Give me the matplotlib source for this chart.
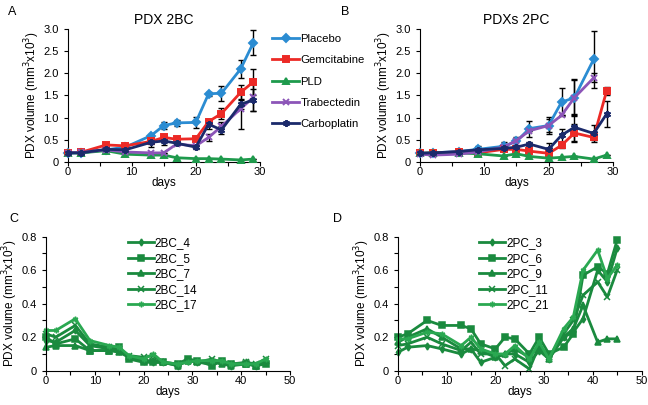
import matplotlib
matplotlib.use("Agg")
import matplotlib.pyplot as plt
from matplotlib.ticker import MultipleLocator, FuncFormatter

plt.rcParams['font.family'] = ['Liberation Sans', 'DejaVu Sans']

# ---- data, panels A/B ----
days_ab = [0, 2, 6, 9, 13, 15, 17, 20, 22, 24, 27, 29]
drugs = ['Placebo', 'Gemcitabine', 'PLD', 'Trabectedin', 'Carboplatin']

bc_placebo = [0.20, 0.20, 0.27, 0.33, 0.59, 0.82, 0.88, 0.89, 1.54, 1.55, 2.10, 2.70]
bc_placebo_err = [0, 0, 0, 0, 0.04, 0.08, 0.06, 0.13, 0.05, 0.17, 0.20, 0.28]
bc_gem = [0.20, 0.21, 0.38, 0.36, 0.46, 0.55, 0.51, 0.52, 0.91, 1.09, 1.57, 1.81]
bc_gem_err = [0, 0, 0, 0, 0.07, 0.06, 0.05, 0.05, 0.06, 0.12, 0.16, 0.30]
bc_pld = [0.20, 0.20, 0.25, 0.17, 0.15, 0.15, 0.09, 0.07, 0.07, 0.06, 0.04, 0.06]
bc_pld_err = [0] * 12
bc_trab = [0.20, 0.21, 0.27, 0.22, 0.20, 0.20, 0.40, 0.36, 0.55, 0.80, 1.20, 1.46]
bc_trab_err = [0, 0, 0, 0, 0, 0, 0, 0, 0.08, 0.10, 0.45, 0.30]
bc_carbo = [0.20, 0.20, 0.28, 0.27, 0.44, 0.47, 0.42, 0.33, 0.85, 0.72, 1.30, 1.40]
bc_carbo_err = [0, 0, 0, 0, 0.10, 0.10, 0.05, 0.05, 0.10, 0.10, 0.10, 0.25]

days_pc_plac = [0, 2, 6, 9, 13, 15, 17, 20, 22, 24, 27]
pc_placebo = [0.19, 0.20, 0.23, 0.28, 0.35, 0.46, 0.75, 0.82, 1.35, 1.45, 2.32]
pc_placebo_err = [0, 0, 0.04, 0.08, 0.10, 0.10, 0.18, 0.20, 0.32, 0.42, 0.65]
pc_gem = [0.19, 0.20, 0.22, 0.20, 0.28, 0.28, 0.24, 0.19, 0.37, 0.65, 0.55, 1.60]
pc_gem_err = [0, 0, 0, 0, 0, 0, 0, 0, 0.05, 0.20, 0.06, 0.10]
pc_pld = [0.19, 0.20, 0.20, 0.18, 0.13, 0.18, 0.12, 0.08, 0.10, 0.12, 0.06, 0.15]
pc_pld_err = [0] * 12
days_pc_trab = [0, 2, 6, 9, 13, 15, 17, 20, 22, 24, 27]
pc_trab = [0.17, 0.15, 0.17, 0.22, 0.33, 0.48, 0.70, 0.82, 1.05, 1.45, 1.90]
pc_trab_err = [0, 0, 0, 0, 0, 0, 0, 0.15, 0, 0.40, 0.10]
pc_carbo = [0.19, 0.20, 0.23, 0.27, 0.30, 0.33, 0.40, 0.28, 0.60, 0.78, 0.64, 1.08]
pc_carbo_err = [0, 0, 0, 0, 0, 0.05, 0.05, 0.15, 0.15, 0.30, 0.20, 0.30]

# ---- data, panels C/D ----
days_cd = [0, 2, 6, 9, 13, 15, 17, 20, 22, 24, 27, 29, 31, 34, 36, 38, 41, 43, 45]
bc_names = ['2BC_4', '2BC_5', '2BC_7', '2BC_14', '2BC_17']
bc_4 = [0.18, 0.17, 0.24, 0.15, 0.13, 0.12, 0.08, 0.06, 0.05, 0.05, 0.03, 0.06, 0.05, 0.04, 0.05, 0.03, 0.05, 0.03, 0.05]
bc_5 = [0.20, 0.16, 0.19, 0.12, 0.12, 0.14, 0.07, 0.05, 0.05, 0.05, 0.04, 0.07, 0.06, 0.03, 0.06, 0.04, 0.04, 0.03, 0.04]
bc_7 = [0.14, 0.15, 0.15, 0.12, 0.12, 0.11, 0.08, 0.06, 0.06, 0.05, 0.03, 0.06, 0.05, 0.06, 0.04, 0.03, 0.04, 0.03, 0.06]
bc_14 = [0.22, 0.20, 0.27, 0.16, 0.14, 0.13, 0.09, 0.08, 0.09, 0.05, 0.04, 0.06, 0.05, 0.07, 0.05, 0.04, 0.05, 0.04, 0.07]
bc_17 = [0.24, 0.24, 0.31, 0.18, 0.15, 0.14, 0.09, 0.07, 0.10, 0.05, 0.04, 0.05, 0.06, 0.06, 0.06, 0.04, 0.04, 0.04, 0.07]

pc_names = ['2PC_3', '2PC_6', '2PC_9', '2PC_11', '2PC_21']
pc_3 = [0.11, 0.14, 0.15, 0.13, 0.10, 0.13, 0.05, 0.08, 0.10, 0.10, 0.05, 0.12, 0.07, 0.20, 0.23, 0.31, 0.60, 0.53, 0.73]
pc_6 = [0.20, 0.22, 0.30, 0.27, 0.27, 0.25, 0.16, 0.13, 0.20, 0.19, 0.10, 0.20, 0.10, 0.14, 0.22, 0.57, 0.62, 0.58, 0.78]
pc_9 = [0.17, 0.20, 0.25, 0.20, 0.13, 0.13, 0.12, 0.08, 0.10, 0.13, 0.08, 0.15, 0.07, 0.20, 0.25, 0.39, 0.17, 0.19, 0.19]
pc_11 = [0.15, 0.16, 0.20, 0.16, 0.12, 0.17, 0.10, 0.10, 0.03, 0.07, 0.01, 0.15, 0.08, 0.22, 0.30, 0.45, 0.53, 0.44, 0.60]
pc_21 = [0.19, 0.19, 0.23, 0.22, 0.15, 0.20, 0.13, 0.10, 0.10, 0.15, 0.07, 0.17, 0.07, 0.25, 0.32, 0.60, 0.72, 0.55, 0.63]

drug_colors = ['#2b8cd2', '#ec2a26', '#1e9a4c', '#8c55b8', '#1b2a6b']
drug_markers = ['D', 's', '^', 'x', (6, 2, 0)]
green = '#1a8a3e'
green_light = '#2aa851'


def fmt_y(v, pos):
    return '0' if abs(v) < 1e-9 else '%.1f' % v


def style(ax, xmax, ymax, ymaj, ymin):
    ax.spines['top'].set_visible(False)
    ax.spines['right'].set_visible(False)
    ax.set_xlim(0, xmax)
    ax.set_ylim(0, ymax)
    ax.xaxis.set_major_locator(MultipleLocator(10))
    ax.xaxis.set_minor_locator(MultipleLocator(5))
    ax.yaxis.set_major_locator(MultipleLocator(ymaj))
    ax.yaxis.set_minor_locator(MultipleLocator(ymin))
    ax.yaxis.set_major_formatter(FuncFormatter(fmt_y))
    ax.tick_params(which='both', direction='out', labelsize=8, length=3, width=0.8)
    ax.tick_params(axis='x', which='major', pad=1)
    ax.set_xlabel('days', fontsize=8.5, labelpad=0)
    ax.set_ylabel('PDX volume (mm$^3$x10$^3$)', fontsize=8.5, labelpad=1)
    for s in ax.spines.values():
        s.set_linewidth(0.8)


fig = plt.figure(figsize=(6.48, 4.05), dpi=100)
axA = fig.add_axes([0.1045, 0.6007, 0.2965, 0.327])
axB = fig.add_axes([0.648, 0.6007, 0.298, 0.327])
axC = fig.add_axes([0.071, 0.0847, 0.3765, 0.331])
axD = fig.add_axes([0.614, 0.0847, 0.376, 0.331])

seriesA = [(days_ab, bc_placebo, bc_placebo_err), (days_ab, bc_gem, bc_gem_err),
           (days_ab, bc_pld, bc_pld_err), (days_ab, bc_trab, bc_trab_err),
           (days_ab, bc_carbo, bc_carbo_err)]
seriesB = [(days_pc_plac, pc_placebo, pc_placebo_err), (days_ab, pc_gem, pc_gem_err),
           (days_ab, pc_pld, pc_pld_err), (days_pc_trab, pc_trab, pc_trab_err),
           (days_ab, pc_carbo, pc_carbo_err)]

for ax, series in [(axA, seriesA), (axB, seriesB)]:
    for i, (d, v, e) in enumerate(series):
        ax.errorbar(d, v, yerr=e, fmt='none', ecolor='black', elinewidth=1,
                    capsize=2, capthick=1, zorder=2)
    for i, (d, v, e) in enumerate(series):
        ms = 4.2 if drug_markers[i] in ('D', 's', '^') else 5
        ax.plot(d, v, color=drug_colors[i], lw=2, marker=drug_markers[i],
                ms=ms, mew=1.4, label=drugs[i], zorder=3, clip_on=False)
    style(ax, 30, 3.0, 0.5, 0.5)

axA.set_title('PDX 2BC', fontsize=10, pad=4)
axB.set_title('PDXs 2PC', fontsize=10, pad=4)
axA.legend(loc='upper left', bbox_to_anchor=(1.04, 1.0), frameon=False,
           fontsize=8.2, handlelength=2.4, handletextpad=0.1, labelspacing=1.0,
           borderaxespad=0)

line_markers = ['d', 's', '^', 'x', (6, 2, 0)]
for ax, names, data in [(axC, bc_names, [bc_4, bc_5, bc_7, bc_14, bc_17]),
                        (axD, pc_names, [pc_3, pc_6, pc_9, pc_11, pc_21])]:
    for i, v in enumerate(data):
        col = green_light if i == 4 else green
        ms = 3.5 if i == 0 else 4
        ax.plot(days_cd, v, color=col, lw=2, marker=line_markers[i], ms=ms,
                mew=1.1, label=names[i], clip_on=False)
    style(ax, 50, 0.8, 0.2, 0.1)
    ax.legend(loc='upper left', bbox_to_anchor=(0.315, 1.03), frameon=False,
              fontsize=8.5, handlelength=2.2, handletextpad=0.1, labelspacing=0.3,
              borderaxespad=0)

for lab, x, y in [('A', 0.012, 0.985), ('B', 0.526, 0.985), ('C', 0.014, 0.475), ('D', 0.514, 0.475)]:
    fig.text(x, y, lab, fontsize=9, va='top', ha='left')

fig.savefig('out.png', dpi=100)
